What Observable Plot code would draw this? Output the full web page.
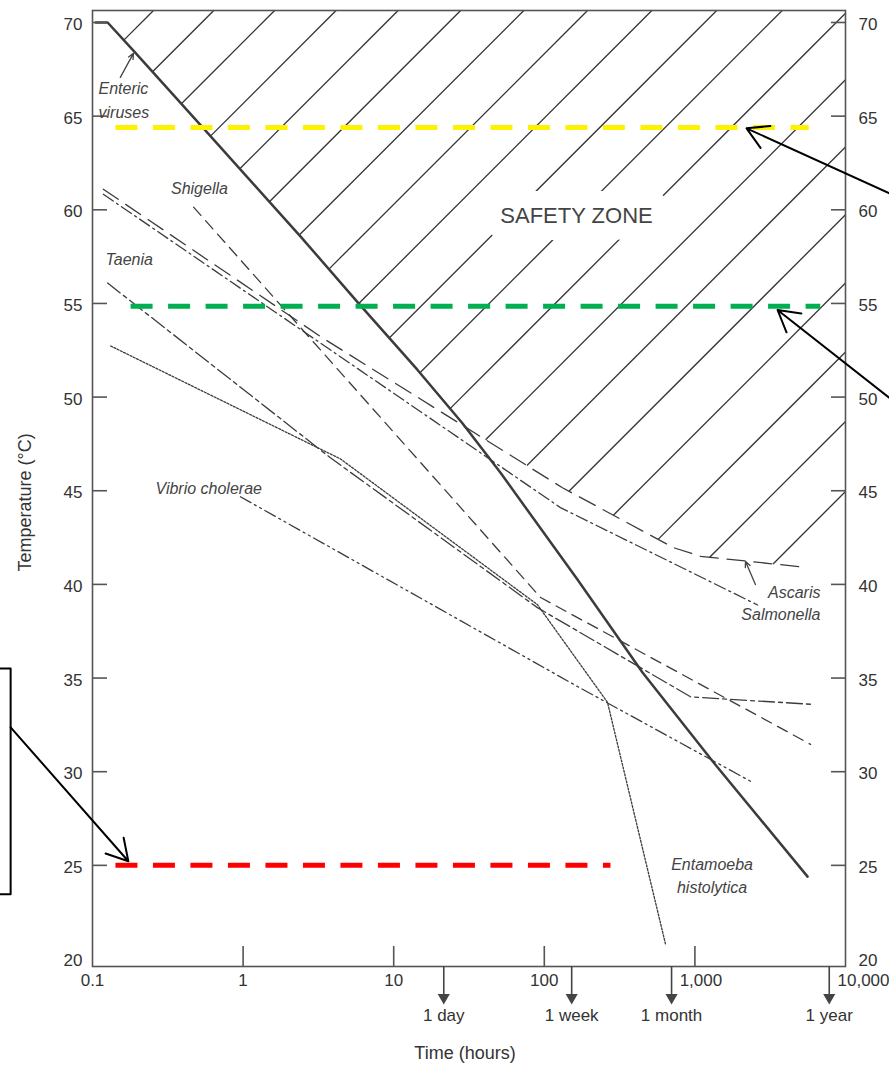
<!DOCTYPE html>
<html><head><meta charset="utf-8">
<script src="https://cdn.jsdelivr.net/npm/d3@7"></script>
<script src="https://cdn.jsdelivr.net/npm/@observablehq/plot@0.6"></script>
<style>
html,body{margin:0;padding:0;background:#fff;}
#chart svg{display:block;}
</style></head><body><div id="chart"></div>
<script>
// ---------- data ----------
const yTicks = [20, 25, 30, 35, 40, 45, 50, 55, 60, 65, 70];
const xTicks = [0.1, 1, 10, 100, 1000, 10000];
const periodLabels = ["1 day", "1 week", "1 month", "1 year"];
const periodHours = [21.5, 152, 700, 7800];

const entericHours = [0.105, 0.126, 0.187, 0.546, 2.41, 5.75, 14.4, 28.6, 51.2, 166, 449, 1327, 5600];
const entericTemp  = [70, 70, 68.5, 64.35, 58.57, 55.07, 51.45, 48.6, 45.96, 40.26, 35.3, 30.5, 24.4];
const ascarisHours = [0.118, 3.37, 132, 721, 1089, 5600];
const ascarisTemp  = [61.1, 53.16, 45.16, 41.96, 41.5, 40.9];
const salmonellaHours = [0.118, 128, 2606];
const salmonellaTemp  = [60.83, 44.1, 38.9];
const shigellaHours = [0.469, 94.5, 5860];
const shigellaTemp  = [60.14, 39.3, 31.46];
const taeniaHours = [0.126, 3.8, 90, 935, 5860];
const taeniaTemp  = [56.09, 46.76, 38.76, 34.0, 33.6];
const vibrioHours = [0.96, 166, 2415];
const vibrioTemp  = [44.68, 34.55, 29.43];
const entamoebaHours = [0.132, 4.43, 90, 263, 638];
const entamoebaTemp  = [52.73, 46.7, 38.92, 33.7, 20.8];

const limitTemp  = [64.4, 54.85, 25];
const limitStart = [0.142, 0.179, 0.142];
const limitEnd   = [5700, 6800, 275];
const limitColor = ["#fff200", "#00b050", "#ff0000"];

const calloutFromHours = [19590, 19590, 0.0286];
const calloutFromTemp  = [60.88, 49.96, 32.37];
const calloutToHours   = [2203, 3540, 0.173];
const calloutToTemp    = [64.35, 54.65, 25.22];
const boxHours = [0.02, 0.0286, 0.0286, 0.02];
const boxTemp  = [35.51, 35.51, 23.46, 23.46];

const pointerFromHours = [0.153, 2523];
const pointerFromTemp  = [67.07, 39.99];
const pointerToHours   = [0.187, 2168];
const pointerToTemp    = [68.35, 41.22];

const labelText  = ["Enteric", "viruses", "Shigella", "Taenia", "Vibrio cholerae", "Ascaris", "Salmonella", "Entamoeba", "histolytica"];
const labelHours = [0.1096, 0.1096, 0.513, 0.122, 0.262, 6820, 6820, 1300, 1300];
const labelTemp  = [66.43, 65.2, 61.1, 57.31, 45.08, 39.56, 38.39, 25.01, 23.78];
const labelAlign = ["start", "start", "middle", "start", "start", "end", "end", "middle", "middle"];

const zoneText = ["SAFETY ZONE"];
const zoneHours = [163.7];
const zoneTemp = [59.66];

// ---------- layout / style ----------
const width = 889, height = 1069;
const marginLeft = 92, marginRight = 44, marginTop = 10, marginBottom = 103;
const yMin = 19.6, yMax = 70.64;
const ink = "#3c3c3c";
const font = "'Liberation Sans', Arial, sans-serif";
// hatch lines: pixel-space diagonals x + y = c, spacing widening slightly to the right
const hatchCount = 19, hatchFirst = 163, hatchStep = 60, hatchGrowth = 0.287;

// ---------- helpers ----------
const rows = (hs, ts) => hs.map((h, i) => ({hours: h, temp: ts[i]}));
const last = a => a[a.length - 1];
function interp(hs, ts, h) {
  const x = Math.log10(h);
  for (let i = 0; i < hs.length - 1; i++) {
    const a = Math.log10(hs[i]), b = Math.log10(hs[i + 1]);
    if (x >= a && x <= b) return ts[i] + (ts[i + 1] - ts[i]) * (x - a) / (b - a);
  }
  return NaN;
}
function safetyBoundary() {
  const lo = Math.max(entericHours[0], ascarisHours[0]);
  const hi = Math.min(last(entericHours), last(ascarisHours));
  const xs = [...entericHours, ...ascarisHours].filter(h => h >= lo && h <= hi).sort((a, b) => a - b);
  let xc = xs[0], yc = interp(entericHours, entericTemp, xs[0]);
  for (let i = 0; i < xs.length - 1; i++) {
    const d0 = interp(entericHours, entericTemp, xs[i]) - interp(ascarisHours, ascarisTemp, xs[i]);
    const d1 = interp(entericHours, entericTemp, xs[i + 1]) - interp(ascarisHours, ascarisTemp, xs[i + 1]);
    if (d0 >= 0 && d1 < 0) {
      const t = d0 / (d0 - d1);
      const lc = Math.log10(xs[i]) + t * (Math.log10(xs[i + 1]) - Math.log10(xs[i]));
      xc = 10 ** lc; yc = interp(entericHours, entericTemp, xc);
      break;
    }
  }
  const out = [];
  entericHours.forEach((h, i) => { if (h < xc) out.push({hours: h, temp: entericTemp[i]}); });
  out.push({hours: xc, temp: yc});
  ascarisHours.forEach((h, i) => { if (h > xc) out.push({hours: h, temp: ascarisTemp[i]}); });
  out.push({hours: 10000, temp: last(ascarisTemp)});
  return out;
}

// hatch segments computed through the same scales the plot uses
const sx = Plot.scale({x: {type: "log", domain: [0.1, 10000], range: [marginLeft, width - marginRight]}});
const sy = Plot.scale({y: {type: "linear", domain: [yMin, yMax], range: [height - marginBottom, marginTop]}});
function hatchSegments() {
  const pts = safetyBoundary().map(d => [sx.apply(d.hours), sy.apply(d.temp)]);
  const right = width - marginRight, top = marginTop;
  const segs = [];
  for (let k = 0; k < hatchCount; k++) {
    const c = hatchFirst + hatchStep * k + hatchGrowth * k * k;
    let lower = null;
    for (let i = 0; i < pts.length - 1; i++) {
      const [x0, y0] = pts[i], [x1, y1] = pts[i + 1];
      const f0 = x0 + y0 - c, f1 = x1 + y1 - c;
      if (f0 !== f1 && f0 <= 0 && f1 >= 0) {
        const t = f0 / (f0 - f1);
        lower = [x0 + t * (x1 - x0), y0 + t * (y1 - y0)];
        break;
      }
    }
    if (!lower) continue;
    let upper = [c - top, top];
    if (upper[0] > right) upper = [right, c - right];
    segs.push({x1: sx.invert(lower[0]), y1: sy.invert(lower[1]), x2: sx.invert(upper[0]), y2: sy.invert(upper[1])});
  }
  return segs;
}

const series = [
  {hs: ascarisHours, ts: ascarisTemp, dash: "18 9", w: 1.3},
  {hs: salmonellaHours, ts: salmonellaTemp, dash: "12 4 2 4", w: 1.3},
  {hs: shigellaHours, ts: shigellaTemp, dash: "11 7", w: 1.3},
  {hs: taeniaHours, ts: taeniaTemp, dash: "16 4 4 4", w: 1.3},
  {hs: vibrioHours, ts: vibrioTemp, dash: "12 4 2 4 2 4", w: 1.3},
  {hs: entamoebaHours, ts: entamoebaTemp, dash: "2 1.6", w: 1.3},
  {hs: entericHours, ts: entericTemp, dash: null, w: 2.5}
];

const limits = limitTemp.map((t, i) => ({temp: t, x1: limitStart[i], x2: limitEnd[i], color: limitColor[i]}));
const callouts = calloutFromHours.map((h, i) => ({x1: h, y1: calloutFromTemp[i], x2: calloutToHours[i], y2: calloutToTemp[i]}));
const pointers = pointerFromHours.map((h, i) => ({x1: h, y1: pointerFromTemp[i], x2: pointerToHours[i], y2: pointerToTemp[i]}));
const labels = labelText.map((t, i) => ({text: t, hours: labelHours[i], temp: labelTemp[i], align: labelAlign[i]}));

const plot = Plot.plot({
  width, height, marginLeft, marginRight, marginTop, marginBottom,
  style: {fontFamily: font, fontSize: "17px", color: "#333", background: "white", overflow: "visible"},
  x: {type: "log", domain: [0.1, 10000]},
  y: {domain: [yMin, yMax]},
  marks: [
    // safety zone hatching
    Plot.link(hatchSegments(), {x1: "x1", y1: "y1", x2: "x2", y2: "y2", stroke: "#333", strokeWidth: 1.3}),
    Plot.text(zoneText, {x: zoneHours, y: zoneTemp, text: d => d, fontSize: 22, fill: "#444", stroke: "white", strokeWidth: 34, strokeLinejoin: "round"}),
    // pathogen curves
    ...series.map(s => Plot.line(rows(s.hs, s.ts), {x: "hours", y: "temp", stroke: ink, strokeWidth: s.w, strokeDasharray: s.dash, curve: "linear", strokeLinejoin: "round"})),
    // coloured limit lines
    ...limits.map(l => Plot.link([l], {x1: "x1", x2: "x2", y1: "temp", y2: "temp", stroke: l.color, strokeWidth: 5, strokeDasharray: "22 15.5"})),
    // frame + axes
    Plot.frame({stroke: "#555", strokeWidth: 1.6}),
    Plot.axisY(yTicks.filter(t => t > 20), {anchor: "left", tickSize: -15, fill: "none", stroke: "#555", strokeWidth: 1.6, label: null}),
    Plot.axisY(yTicks.filter(t => t > 20), {anchor: "right", tickSize: -15, fill: "none", stroke: "#555", strokeWidth: 1.6, label: null}),
    Plot.axisY(yTicks, {anchor: "left", tickSize: 0, tickPadding: 10, dy: 2, fill: "#333", fontSize: 17, label: null}),
    Plot.axisY(yTicks, {anchor: "right", tickSize: 0, tickPadding: 13, dy: 2, fill: "#333", fontSize: 17, label: null}),
    Plot.axisX(xTicks.slice(1, 5), {anchor: "bottom", tickSize: -20, fill: "none", stroke: "#555", strokeWidth: 1.6, label: null}),
    Plot.axisX(xTicks.slice(0, 4), {anchor: "bottom", tickSize: 0, tickPadding: 7, fill: "#333", fontSize: 17, tickFormat: d3.format(","), label: null}),
    Plot.axisX(xTicks.slice(4, 5), {anchor: "bottom", tickSize: 0, tickPadding: 7, dx: 6, fill: "#333", fontSize: 17, tickFormat: d3.format(","), label: null}),
    Plot.axisX(xTicks.slice(5), {anchor: "bottom", tickSize: 0, tickPadding: 7, dx: 18, fill: "#333", fontSize: 17, tickFormat: d3.format(","), label: null}),
    // period arrows below axis
    Plot.ruleX(periodHours, {x: d => d, y1: yMin, y2: 17.95, stroke: "#444", strokeWidth: 1.6}),
    Plot.dot(periodHours, {x: d => d, y: 17.95, symbol: "triangle", rotate: 180, r: 4.5, fill: "#444", stroke: null}),
    Plot.text(periodLabels, {x: (d, i) => periodHours[i], frameAnchor: "bottom", dy: 54, text: d => d, fontSize: 17, fill: "#333"}),
    // axis titles
    Plot.text(["Time (hours)"], {frameAnchor: "bottom", dy: 92, dx: -4, text: d => d, fontSize: 18, fill: "#333"}),
    Plot.text(["Temperature (°C)"], {frameAnchor: "left", textAnchor: "middle", dx: -67, dy: 14, rotate: -90, text: d => d, fontSize: 18, fill: "#333"}),
    // pathogen labels
    ...["start", "middle", "end"].map(a => Plot.text(labels.filter(l => l.align === a), {x: "hours", y: "temp", text: "text", textAnchor: a, fontSize: 16, fontStyle: "italic", fill: "#444"})),
    Plot.arrow(pointers, {x1: "x1", y1: "y1", x2: "x2", y2: "y2", stroke: "#444", strokeWidth: 1.3, headLength: 7, headAngle: 50}),
    // callout arrows and box
    Plot.arrow(callouts, {x1: "x1", y1: "y1", x2: "x2", y2: "y2", stroke: "black", strokeWidth: 2, headLength: 18, headAngle: 60}),
    Plot.line(rows(boxHours, boxTemp), {x: "hours", y: "temp", stroke: "black", strokeWidth: 2})
  ]
});
document.getElementById("chart").appendChild(plot);
</script></body></html>
